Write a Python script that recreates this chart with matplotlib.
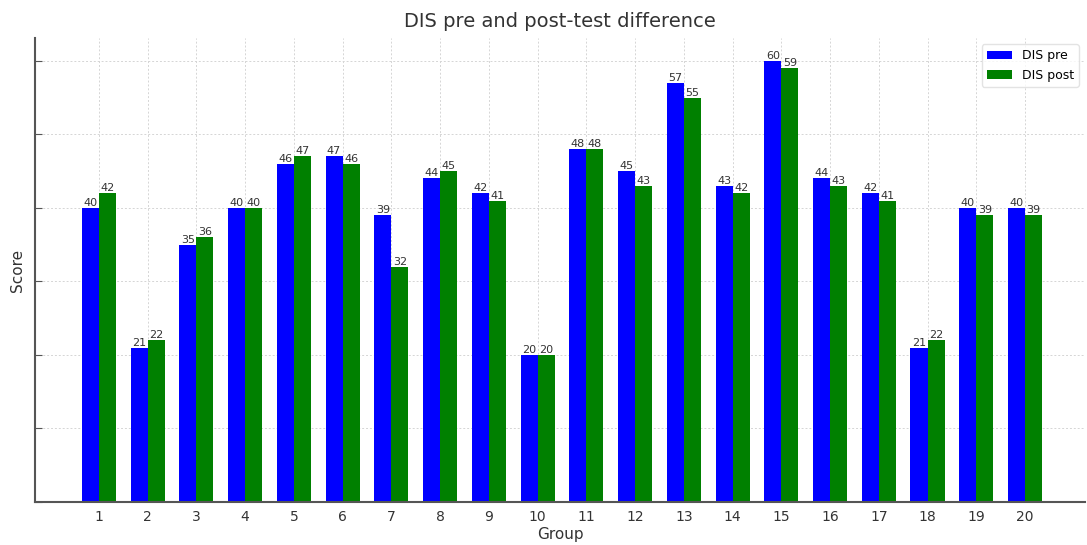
import matplotlib
matplotlib.use("Agg")
import matplotlib.pyplot as plt
import numpy as np

groups = list(range(1, 21))
pre = [40, 21, 35, 40, 46, 47, 39, 44, 42, 20, 48, 45, 57, 43, 60, 44, 42, 21, 40, 40]
post = [42, 22, 36, 40, 47, 46, 32, 45, 41, 20, 48, 43, 55, 42, 59, 43, 41, 22, 39, 39]

fig = plt.figure(figsize=(10.87, 5.45), dpi=100)
ax = fig.add_axes([35/1087, 1 - 502/545, (1085-35)/1087, (502-38)/545])

x = np.array(groups, dtype=float)
w = 0.35
b1 = ax.bar(x - w/2, pre, w, color='blue', label='DIS pre', zorder=2)
b2 = ax.bar(x + w/2, post, w, color='green', label='DIS post', zorder=2)

for bars in (b1, b2):
    for r in bars:
        ax.text(r.get_x() + r.get_width()/2, r.get_height(), f"{int(r.get_height())}",
                ha='center', va='bottom', fontsize=8, color='#333333', zorder=3)

ax.set_xlim(-0.31, 21.23)
ax.set_ylim(0, 63.1)
ax.set_xticks(groups)
ax.set_xticklabels([str(g) for g in groups], fontsize=10, color='#333333')
ax.set_yticks([0, 10, 20, 30, 40, 50, 60])
ax.set_yticklabels([])
ax.tick_params(axis='y', direction='in', length=5, color='#555555')
ax.tick_params(axis='x', length=0, pad=6)
ax.grid(True, linestyle=(0, (2, 2)), color='#d5d5d5', linewidth=0.7, zorder=0)
ax.set_axisbelow(True)
for s in ['top', 'right']:
    ax.spines[s].set_visible(False)
for s in ['left', 'bottom']:
    ax.spines[s].set_color('#555555')
    ax.spines[s].set_linewidth(1.5)

ax.set_title('DIS pre and post-test difference', fontsize=14, color='#333333', pad=8)
ax.set_xlabel('Group', fontsize=11, color='#333333', labelpad=2)
ax.set_ylabel('Score', fontsize=11, color='#333333')
ax.legend(loc='upper right', fontsize=9, frameon=True, framealpha=0.8, edgecolor='#dddddd')

fig.savefig('out.png', dpi=100)
